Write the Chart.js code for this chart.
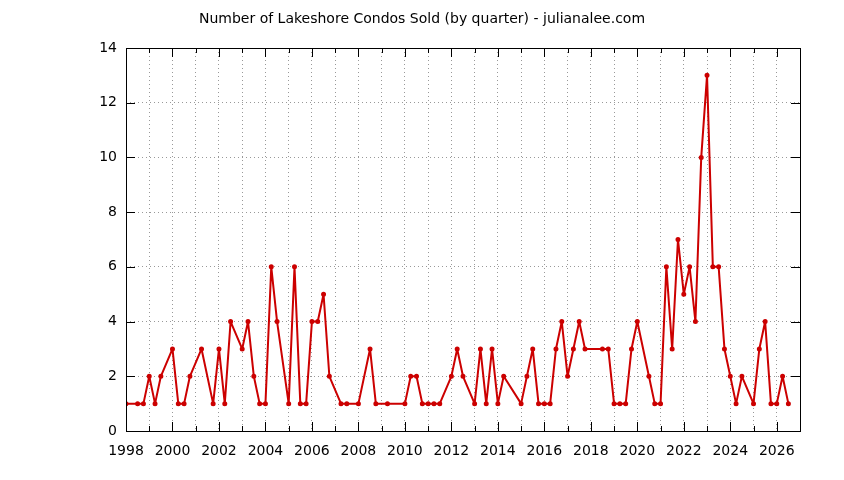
<!DOCTYPE html>
<html>
<head>
<meta charset="utf-8">
<script src="https://cdn.jsdelivr.net/npm/chart.js@4"></script>
<style>
  html, body { margin: 0; padding: 0; background: #fff; }
  #wrap { width: 844px; height: 480px; }
</style>
</head>
<body>
<div id="wrap"><canvas id="condosChart" width="844" height="480"></canvas></div>
<script>
// Datos por trimestre (año, trimestre, ventas)
const chartTitle = "Number of Lakeshore Condos Sold (by quarter) - julianalee.com";

const saleYears = [
  1998, 1998, 1998, 1999, 1999, 1999, 2000, 2000, 2000, 2000,
  2001, 2001, 2002, 2002, 2002, 2003, 2003, 2003, 2003, 2004,
  2004, 2004, 2005, 2005, 2005, 2005, 2006, 2006, 2006, 2006,
  2007, 2007, 2008, 2008, 2008, 2009, 2010, 2010, 2010, 2010,
  2011, 2011, 2011, 2012, 2012, 2012, 2013, 2013, 2013, 2013,
  2014, 2014, 2015, 2015, 2015, 2015, 2016, 2016, 2016, 2016,
  2017, 2017, 2017, 2017, 2018, 2018, 2019, 2019, 2019, 2019,
  2020, 2020, 2020, 2021, 2021, 2021, 2021, 2022, 2022, 2022,
  2022, 2023, 2023, 2023, 2023, 2024, 2024, 2024, 2025, 2025,
  2025, 2025, 2026, 2026, 2026
];
const saleQuarters = [
  1, 3, 4, 1, 2, 3, 1, 2, 3, 4,
  2, 4, 1, 2, 3, 1, 2, 3, 4, 1,
  2, 3, 1, 2, 3, 4, 1, 2, 3, 4,
  2, 3, 1, 3, 4, 2, 1, 2, 3, 4,
  1, 2, 3, 1, 2, 3, 1, 2, 3, 4,
  1, 2, 1, 2, 3, 4, 1, 2, 3, 4,
  1, 2, 3, 4, 3, 4, 1, 2, 3, 4,
  1, 3, 4, 1, 2, 3, 4, 1, 2, 3,
  4, 1, 2, 3, 4, 1, 2, 3, 1, 2,
  3, 4, 1, 2, 3
];
const condosSold = [
  1, 1, 1, 2, 1, 2, 3, 1, 1, 2,
  3, 1, 3, 1, 4, 3, 4, 2, 1, 1,
  6, 4, 1, 6, 1, 1, 4, 4, 5, 2,
  1, 1, 1, 3, 1, 1, 1, 2, 2, 1,
  1, 1, 1, 2, 3, 2, 1, 3, 1, 3,
  1, 2, 1, 2, 3, 1, 1, 1, 3, 4,
  2, 3, 4, 3, 3, 3, 1, 1, 1, 3,
  4, 2, 1, 1, 6, 3, 7, 5, 6, 4,
  10, 13, 6, 6, 3, 2, 1, 2, 1, 3,
  4, 1, 1, 2, 1
];

// Ejes
const xMin = 1998, xMax = 2027;
const yMin = 0, yMax = 14, yStep = 2;

const puntos = saleYears.map((y, i) => ({ x: y + (saleQuarters[i] - 1) / 4, y: condosSold[i] }));

// Marco tipo gnuplot: caja, marcas hacia adentro y título
const marcoPlugin = {
  id: 'marco',
  afterDraw(chart) {
    const { ctx, chartArea: a, scales } = chart;
    ctx.save();
    ctx.strokeStyle = '#000';
    ctx.lineWidth = 1;
    ctx.beginPath();
    // marcas en x (mayores años pares, menores impares)
    for (let v = xMin; v <= xMax; v++) {
      const px = Math.round(scales.x.getPixelForValue(v)) + 0.5;
      const len = (v % 2 === 0) ? 9 : 5;
      ctx.moveTo(px, a.bottom); ctx.lineTo(px, a.bottom - len);
      ctx.moveTo(px, a.top); ctx.lineTo(px, a.top + len);
    }
    for (let v = yMin; v <= yMax; v += yStep) {
      const py = Math.round(scales.y.getPixelForValue(v)) + 0.5;
      ctx.moveTo(a.left, py); ctx.lineTo(a.left + 9, py);
      ctx.moveTo(a.right, py); ctx.lineTo(a.right - 9, py);
    }
    ctx.stroke();
    ctx.strokeRect(Math.round(a.left) + 0.5, Math.round(a.top) + 0.5,
      Math.round(a.right - a.left), Math.round(a.bottom - a.top));
    ctx.fillStyle = '#000';
    ctx.font = '14px "DejaVu Sans"';
    ctx.textAlign = 'center';
    ctx.textBaseline = 'middle';
    ctx.fillText(chartTitle, 422, 19);
    ctx.restore();
  }
};

const ctx = document.getElementById('condosChart').getContext('2d');
new Chart(ctx, {
  type: 'line',
  data: {
    datasets: [{
      label: 'Condos sold',
      data: puntos,
      borderColor: '#cc0000',
      backgroundColor: '#cc0000',
      borderWidth: 2,
      borderJoinStyle: 'round',
      pointRadius: 1.5,
      pointHoverRadius: 1.5,
      tension: 0,
      fill: false
    }]
  },
  options: {
    responsive: false,
    animation: false,
    layout: { padding: { left: 0, right: 44, top: 48, bottom: 0 } },
    plugins: { legend: { display: false }, tooltip: { enabled: false } },
    scales: {
      x: {
        type: 'linear',
        min: xMin,
        max: xMax,
        afterFit: s => { s.height = 49; },
        grid: { color: '#999', lineWidth: 1, drawTicks: false },
        border: { display: false, dash: [1, 3] },
        ticks: {
          stepSize: 1,
          autoSkip: false,
          maxRotation: 0,
          padding: 12,
          color: '#000',
          font: { family: 'DejaVu Sans', size: 14 },
          callback: v => (v % 2 === 0 && v < xMax) ? String(v) : ''
        }
      },
      y: {
        min: yMin,
        max: yMax,
        afterFit: s => { s.width = 126; },
        grid: { color: '#999', lineWidth: 1, drawTicks: false },
        border: { display: false, dash: [1, 3] },
        ticks: {
          stepSize: yStep,
          padding: 9,
          color: '#000',
          font: { family: 'DejaVu Sans', size: 14 }
        }
      }
    }
  },
  plugins: [marcoPlugin]
});
</script>
</body>
</html>
